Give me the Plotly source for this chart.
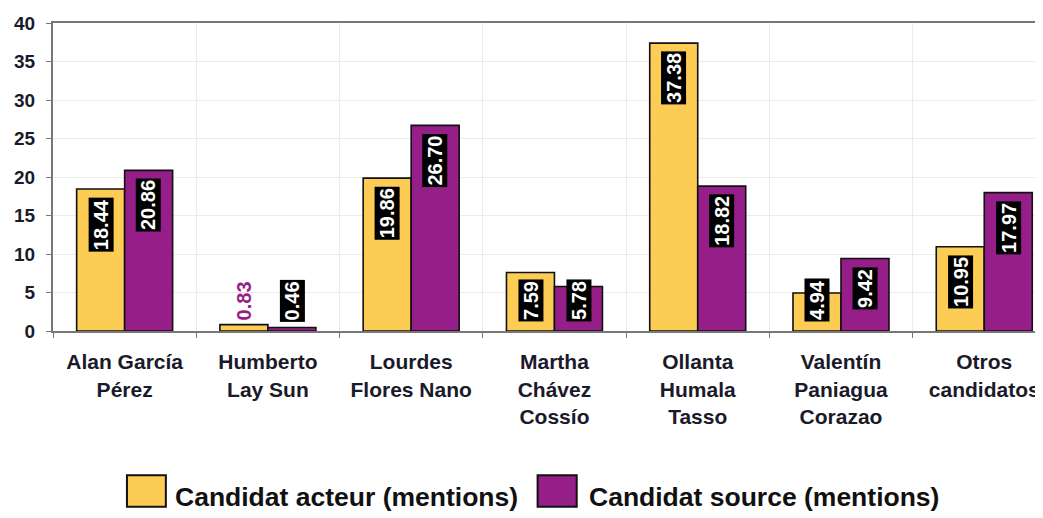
import plotly.graph_objects as go

categories = [
    "Alan García<br>Pérez",
    "Humberto<br>Lay Sun",
    "Lourdes<br>Flores Nano",
    "Martha<br>Chávez<br>Cossío",
    "Ollanta<br>Humala<br>Tasso",
    "Valentín<br>Paniagua<br>Corazao",
    "Otros<br>candidatos",
]
acteur = [18.44, 0.83, 19.86, 7.59, 37.38, 4.94, 10.95]
source = [20.86, 0.46, 26.70, 5.78, 18.82, 9.42, 17.97]
series_names = ["Candidat acteur (mentions)", "Candidat source (mentions)"]
y_ticks = [0, 5, 10, 15, 20, 25, 30, 35, 40]

YELLOW = "#FDCC55"
PURPLE = "#951E88"
FONT = "Liberation Sans"
BARGAP = 0.33

fig = go.Figure()
for name, vals, col in [(series_names[0], acteur, YELLOW), (series_names[1], source, PURPLE)]:
    fig.add_trace(go.Bar(
        x=categories, y=vals, name=name,
        marker=dict(color=col, line=dict(color="#111111", width=1.6)),
        showlegend=False,
    ))

half = (1 - BARGAP) / 4.0
annotations = []
for si, vals in enumerate([acteur, source]):
    off = -half if si == 0 else half
    for ci, v in enumerate(vals):
        label = f"{v:.2f}"
        plain = (si == 0 and ci == 1)
        small = v < 8
        annotations.append(dict(
            x=ci + off, y=0 if small else v, xref="x", yref="y",
            text=label, textangle=-90, showarrow=False,
            yanchor="bottom" if small else "top",
            yshift=9 if small else -8,
            font=dict(family=FONT, size=20, weight="bold",
                      color=PURPLE if plain else "white"),
            bgcolor=None if plain else "black",
            borderpad=1,
        ))

# custom legend (large swatches)
legend_items = [
    (series_names[0], YELLOW, 0.0747, 0.114, 0.1212),
    (series_names[1], PURPLE, 0.4895, 0.529, 0.5395),
]
shapes = []
for name, col, x0, x1, xt in legend_items:
    shapes.append(dict(type="rect", xref="paper", yref="paper",
                       x0=x0, x1=x1, y0=-0.571, y1=-0.468,
                       fillcolor=col, line=dict(color="#111111", width=2)))
    annotations.append(dict(x=xt, y=-0.538, xref="paper", yref="paper",
                            text=name, showarrow=False, xanchor="left", yanchor="middle",
                            font=dict(family=FONT, size=26.5, weight="bold", color="#111111")))

fig.update_layout(
    width=1035, height=510,
    margin=dict(l=45, r=0, t=15, b=187),
    paper_bgcolor="white", plot_bgcolor="white",
    barmode="group", bargap=BARGAP, bargroupgap=0,
    annotations=annotations, shapes=shapes,
    showlegend=False,
    xaxis=dict(
        range=[-0.5, 6.41], tickson="boundaries", automargin=False,
        showgrid=True, gridcolor="#ebebeb", gridwidth=1,
        showline=True, linecolor="#777777", linewidth=2, mirror=True,
        ticks="outside", ticklen=5, tickcolor="#777777",
        ticklabelstandoff=11,
        tickfont=dict(family=FONT, size=21, weight="bold", color="#1a1a2a"),
        fixedrange=True,
    ),
    yaxis=dict(
        range=[0, 40], tickvals=y_ticks, automargin=False,
        showgrid=True, gridcolor="#ebebeb", gridwidth=1,
        showline=True, linecolor="#777777", linewidth=2,
        ticks="outside", ticklen=5, tickcolor="#777777",
        ticklabelstandoff=7,
        tickfont=dict(family=FONT, size=19, weight="bold", color="#1a1a2a"),
        zeroline=False,
    ),
)

fig.write_html("out.html")
